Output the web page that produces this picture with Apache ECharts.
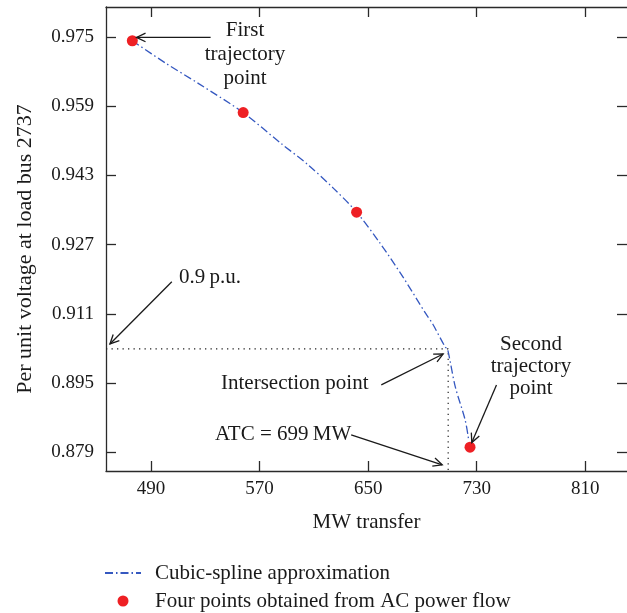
<!DOCTYPE html>
<html>
<head>
<meta charset="utf-8">
<script src="https://cdn.jsdelivr.net/npm/echarts@6/dist/echarts.min.js"></script>
<style>
html, body { margin: 0; padding: 0; background: #fff; }
#chart { width: 627px; height: 613px; }
</style>
</head>
<body>
<div id="chart"></div>
<script>
// points obtained from AC power flow
var pointX = [476.2, 557.9, 641.5, 725.1];
var pointY = [0.9741, 0.9575, 0.9345, 0.8802];

// cubic-spline approximation
var splineX = [476.2, 500.9, 525.1, 557.9, 585.7, 605.1, 624.5, 641.5, 658.4, 675.5, 692.4, 697.7, 706.9, 708.5, 714.2, 721.5, 723.9];
var splineY = [0.9741, 0.9689, 0.9642, 0.9575, 0.9504, 0.9456, 0.9400, 0.9345, 0.9275, 0.9196, 0.9111, 0.9086, 0.9033, 0.9029, 0.8942, 0.8865, 0.8823];

// 0.9 p.u. / ATC guide lines
var guideX = [456.8, 709, 709];
var guideY = [0.9029, 0.9029, 0.8747];

var xTicks = [490, 570, 650, 730, 810];
var yTicks = [0.879, 0.895, 0.911, 0.927, 0.943, 0.959, 0.975];

var xRange = [456.8, 840.8];
var yRange = [0.8747, 0.9819];

var serif = '"Liberation Serif", "DejaVu Serif", serif';
var ink = '#1a1a1a';
var wordSize = 21;

var theChart = echarts.init(document.getElementById('chart'));

function zip(xs, ys) {
    return xs.map(function (x, i) { return [x, ys[i]]; });
}

var axisLine = { show: true, lineStyle: { color: '#2a2a2a', width: 1.3 } };
var tickIn = { inside: true, length: 10, lineStyle: { color: '#2a2a2a', width: 1.3 } };
var legendText = { fontFamily: serif, fontSize: wordSize, lineHeight: 22, color: ink };

option = {
    backgroundColor: '#fff',
    animation: false,
    grid: { left: 106, top: 7, width: 528, height: 464 },
    legend: [{
        top: 562,
        left: 104,
        padding: 0,
        itemWidth: 36,
        itemHeight: 11,
        textStyle: Object.assign({ padding: [0, 0, 0, 9] }, legendText),
        data: [{
            name: 'Cubic-spline approximation',
            itemStyle: { color: 'rgba(0,0,0,0)', borderWidth: 0, opacity: 0 }
        }]
    }, {
        top: 590,
        left: 117.5,
        padding: 0,
        itemWidth: 36,
        itemHeight: 11,
        textStyle: Object.assign({ padding: [0, 0, 0, 9] }, legendText),
        data: ['Four points obtained from AC power flow']
    }],
    xAxis: [{
        type: 'value',
        min: xRange[0],
        max: xRange[1],
        name: 'MW transfer',
        nameLocation: 'middle',
        nameGap: 41,
        nameTextStyle: { fontFamily: serif, fontSize: wordSize, color: ink },
        axisLine: axisLine,
        axisTick: Object.assign({ customValues: xTicks }, tickIn),
        axisLabel: { customValues: xTicks, margin: 9, fontFamily: serif, fontSize: 19, color: ink },
        splitLine: { show: false }
    }, {
        type: 'value',
        position: 'top',
        min: xRange[0],
        max: xRange[1],
        axisLine: axisLine,
        axisTick: Object.assign({ customValues: xTicks }, tickIn),
        axisLabel: { show: false },
        splitLine: { show: false }
    }],
    yAxis: [{
        type: 'value',
        min: yRange[0],
        max: yRange[1],
        name: 'Per unit voltage at load bus 2737',
        nameLocation: 'middle',
        nameGap: 70,
        nameTextStyle: { fontFamily: serif, fontSize: 22, color: ink, padding: [0, 20, 0, 0] },
        axisLine: axisLine,
        axisTick: Object.assign({ customValues: yTicks }, tickIn),
        axisLabel: {
            customValues: yTicks, margin: 12, fontFamily: serif, fontSize: 19, color: ink,
            formatter: function (v) { return v.toFixed(3); }
        },
        splitLine: { show: false }
    }, {
        type: 'value',
        position: 'right',
        min: yRange[0],
        max: yRange[1],
        axisLine: { show: false },
        axisTick: Object.assign({ customValues: yTicks }, tickIn),
        axisLabel: { show: false },
        splitLine: { show: false }
    }],
    series: [{
        name: 'Cubic-spline approximation',
        type: 'line',
        data: zip(splineX, splineY),
        symbol: 'none',
        showSymbol: false,
        smooth: 0.3,
        lineStyle: { color: '#3558c0', width: 1.3, type: [8, 3, 1.5, 3] },
        itemStyle: { color: '#3558c0' },
        z: 3
    }, {
        name: 'guide',
        type: 'line',
        data: zip(guideX, guideY),
        symbol: 'none',
        lineStyle: { color: '#222', width: 1.2, type: [1.3, 4.2] },
        z: 2
    }, {
        name: 'Four points obtained from AC power flow',
        type: 'scatter',
        data: zip(pointX, pointY),
        symbolSize: 11,
        itemStyle: { color: '#ee2024', opacity: 1 },
        z: 4
    }]
};
theChart.setOption(option);

// annotation arrows: [tail x, tail y, tip x, tip y] in data units
var arrows = [
    [533.9, 0.97487, 479.3, 0.97487],
    [505.3, 0.91844, 459.7, 0.90405],
    [659.7, 0.89459, 705.3, 0.90174],
    [637.5, 0.88304, 704.6, 0.87611],
    [744.6, 0.89459, 726.4, 0.88126]
];

function arrowShapes(a) {
    var p = theChart.convertToPixel({ seriesIndex: 0 }, [a[0], a[1]]);
    var q = theChart.convertToPixel({ seriesIndex: 0 }, [a[2], a[3]]);
    var ang = Math.atan2(q[1] - p[1], q[0] - p[0]);
    var L = 10, w = 0.45;
    var h1 = [q[0] - L * Math.cos(ang - w), q[1] - L * Math.sin(ang - w)];
    var h2 = [q[0] - L * Math.cos(ang + w), q[1] - L * Math.sin(ang + w)];
    return [{
        type: 'line', silent: true, z: 10,
        shape: { x1: p[0], y1: p[1], x2: q[0], y2: q[1] },
        style: { stroke: ink, lineWidth: 1.3 }
    }, {
        type: 'polyline', silent: true, z: 10,
        shape: { points: [h1, q, h2] },
        style: { stroke: ink, lineWidth: 1.3, fill: null }
    }];
}

function label(text, x, y, align, lh) {
    return {
        type: 'text', silent: true, z: 10, x: x, y: y,
        style: {
            text: text, fill: ink, font: wordSize + 'px ' + serif,
            align: align, verticalAlign: 'middle', lineHeight: lh || 24
        }
    };
}

var elements = [];
arrows.forEach(function (a) { elements = elements.concat(arrowShapes(a)); });
elements.push(label('First\ntrajectory\npoint', 245, 54, 'center', 24));
elements.push(label('0.9\u2009p.u.', 179, 277, 'left'));
elements.push(label('Intersection point', 221, 383, 'left'));
elements.push(label('ATC = 699\u2009MW', 215, 434, 'left'));
elements.push(label('Second\ntrajectory\npoint', 531, 366, 'center', 22));

theChart.setOption({ graphic: { elements: elements } });
</script>
</body>
</html>
